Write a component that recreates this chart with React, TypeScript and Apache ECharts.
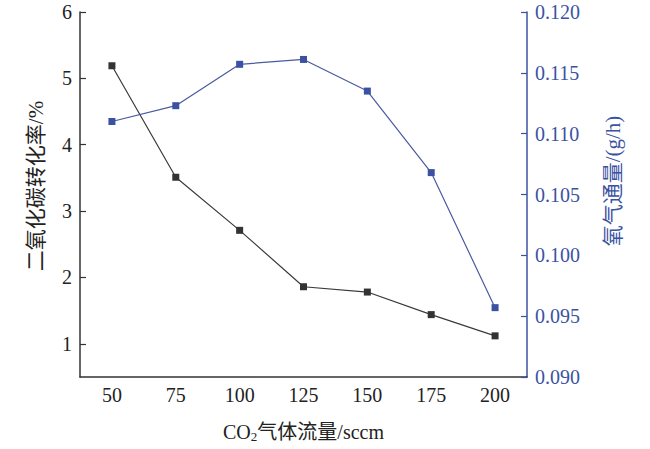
import React, { useEffect, useRef } from "react";
import * as echarts from "echarts";

const categories = ["50", "75", "100", "125", "150", "175", "200"];
const conversion = [5.19, 3.51, 2.71, 1.86, 1.78, 1.44, 1.12];
const oxygenFlux = [0.111, 0.1123, 0.1157, 0.1161, 0.1135, 0.1068, 0.0957];
const leftTicks = [1, 2, 3, 4, 5, 6];
const rightTicks = [0.09, 0.095, 0.1, 0.105, 0.11, 0.115, 0.12];

const FONT = "Liberation Serif, Noto Sans CJK SC, serif";
const DARK = "#333333";
const BLUE = "#3b52a3";

export default function App() {
  const ref = useRef<HTMLDivElement>(null);
  useEffect(() => {
    document.body.style.margin = "0";
    if (!ref.current) return;
    const chart = echarts.init(ref.current, undefined, { renderer: "svg" });
    chart.setOption({
      animation: false,
      backgroundColor: "#ffffff",
      textStyle: { fontFamily: FONT },
      grid: { left: 80, right: 123, top: 12, bottom: 72, containLabel: false },
      graphic: [
        {
          type: "text",
          x: 36,
          y: 186,
          rotation: Math.PI / 2,
          style: {
            text: "二氧化碳转化率/%",
            fontFamily: FONT,
            fontSize: 21,
            fill: "#222",
            align: "center",
            verticalAlign: "middle",
          },
        },
        {
          type: "text",
          x: 613,
          y: 181,
          rotation: Math.PI / 2,
          style: {
            text: "氧气通量/(g/h)",
            fontFamily: FONT,
            fontSize: 21,
            fill: BLUE,
            align: "center",
            verticalAlign: "middle",
          },
        },
      ],
      xAxis: {
        type: "category",
        data: categories,
        boundaryGap: true,
        name: "{a|CO}{s|2}{a|气体流量/sccm}",
        nameLocation: "middle",
        nameGap: 44,
        nameTextStyle: {
          rich: {
            a: { fontFamily: FONT, fontSize: 20, color: "#222", lineHeight: 22 },
            s: { fontFamily: FONT, fontSize: 13, color: "#222", lineHeight: 12, verticalAlign: "bottom" },
          },
        },
        axisLine: { lineStyle: { color: DARK, width: 1.5 } },
        axisTick: { inside: true, alignWithLabel: true, length: 6, lineStyle: { color: DARK, width: 1.2 } },
        axisLabel: { interval: 0, fontFamily: FONT, fontSize: 20, color: "#222", margin: 8 },
        splitLine: { show: false },
      },
      yAxis: [
        {
          type: "value",
          min: 0.5,
          max: 6,
          position: "left",
          axisLine: { show: true, lineStyle: { color: DARK, width: 1.5 } },
          axisTick: { show: true, inside: true, length: 6, customValues: leftTicks, lineStyle: { color: DARK, width: 1.2 } },
          axisLabel: { fontFamily: FONT, fontSize: 20, color: "#222", margin: 8, customValues: leftTicks },
          splitLine: { show: false },
        },
        {
          type: "value",
          min: 0.09,
          max: 0.12,
          position: "right",
          axisLine: { show: true, lineStyle: { color: BLUE, width: 1.5 } },
          axisTick: { show: true, inside: true, length: 6, customValues: rightTicks, lineStyle: { color: BLUE, width: 1.2 } },
          axisLabel: {
            fontFamily: FONT,
            fontSize: 20,
            color: BLUE,
            margin: 8,
            customValues: rightTicks,
            formatter: (v: number) => v.toFixed(3),
          },
          splitLine: { show: false },
        },
      ],
      series: [
        {
          type: "line",
          yAxisIndex: 0,
          data: conversion,
          symbol: "rect",
          symbolSize: 7,
          itemStyle: { color: DARK },
          lineStyle: { color: "#3a3a3a", width: 1.2 },
        },
        {
          type: "line",
          yAxisIndex: 1,
          data: oxygenFlux,
          symbol: "rect",
          symbolSize: 7,
          itemStyle: { color: BLUE },
          lineStyle: { color: "#4a5a9e", width: 1.2 },
        },
      ],
    });
    return () => chart.dispose();
  }, []);
  return <div ref={ref} style={{ width: 650, height: 449 }} />;
}
